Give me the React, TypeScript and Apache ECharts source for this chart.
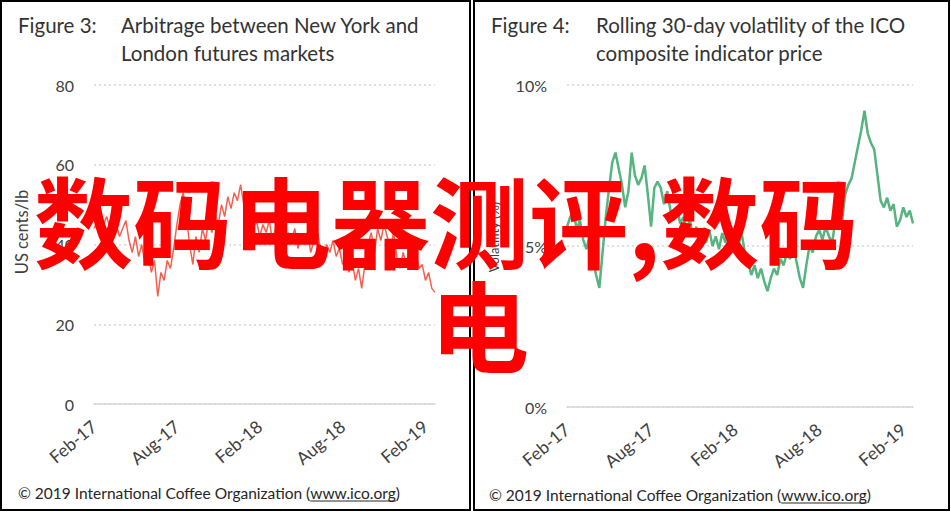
import React, { useEffect, useRef } from "react";
import * as echarts from "echarts";

const tickLabels = ["Feb-17", "Aug-17", "Feb-18", "Aug-18", "Feb-19"];
const tickWeeks = [0, 26, 52, 78, 104];

// Figure 3: NY - London arbitrage, US cents/lb (weekly readings)
const arbitrage = [
  44, 46, 43, 45, 47, 44, 43, 45, 42, 44, 46, 41, 38, 42, 37, 40, 35, 38, 33, 36,
  27, 33, 31, 36, 34, 39, 45, 50, 53, 47, 40, 35, 42, 38, 44, 41, 46, 43, 48, 45,
  50, 47, 52, 49, 53, 51, 55, 50, 52, 47, 44, 46, 42, 45, 43, 46, 41, 44, 42, 45,
  40, 43, 41, 44, 39, 42, 40, 43, 38, 41, 44, 39, 36, 40, 38, 41, 37, 39, 35, 37,
  33, 36, 31, 34, 29, 35, 40, 43, 38, 44, 41, 45, 42, 39, 43, 37, 34, 38, 35, 39,
  36, 38, 34, 35, 31, 33, 29, 28,
];

// Figure 4: rolling 30-day volatility, % (weekly readings)
const volatility = [
  5.6, 5.9, 6.1, 5.5, 5.8, 5.2, 4.9, 5.3, 4.6, 4.1, 3.7, 4.8, 5.9, 6.8, 7.6, 7.9, 7.4, 6.9, 6.2, 6.7,
  7.9, 7.2, 6.9, 7.1, 7.5, 6.6, 5.6, 6.8, 7.0, 6.8, 6.3, 6.7, 6.1, 5.8, 6.2, 5.7, 5.9, 5.5, 5.8, 5.3,
  5.6, 5.2, 5.4, 5.1, 5.5, 5.0, 5.3, 4.9, 5.4, 5.1, 5.6, 5.2, 5.5, 5.0, 5.4, 4.8, 4.5, 4.1, 4.4, 4.0,
  4.3, 3.9, 3.6, 4.0, 4.3, 4.1, 4.6, 4.4, 4.8, 4.6, 5.0, 4.5, 4.0, 3.7, 4.4, 5.0, 4.8, 5.3, 5.5, 5.2,
  5.6, 5.3, 5.1, 5.8, 6.0, 5.7, 6.6, 6.9, 7.1, 7.6, 8.1, 8.6, 9.2, 8.5, 8.2, 8.0, 7.2, 6.4, 6.2, 6.5,
  6.1, 6.3, 5.6, 5.8, 6.2, 5.9, 6.1, 5.7,
];

const FONT = "Lato, 'Open Sans', sans-serif";
const CJK = "'Noto Sans CJK SC', sans-serif";
const TXT = "#333333";
const AX = "#404040";
const GRID = "#d6d6d6";

function measure(text: string, font: string): number {
  const c = document.createElement("canvas");
  const ctx = c.getContext("2d");
  if (!ctx) return text.length * 7;
  ctx.font = font;
  return ctx.measureText(text).width;
}

function footer(x: number, y: number) {
  const size = 15.5;
  const font = `${size}px Lato`;
  const pre = "© 2019 International Coffee Organization (";
  const url = "www.ico.org";
  const w1 = measure(pre, font);
  const w2 = measure(url, font);
  const base = { fill: "#262626", fontSize: size, fontFamily: FONT, textVerticalAlign: "middle" };
  return [
    { type: "text", x, y, style: { ...base, text: pre } },
    { type: "text", x: x + w1, y, style: { ...base, text: url } },
    { type: "text", x: x + w1 + w2, y, style: { ...base, text: ")" } },
    {
      type: "line",
      shape: { x1: x + w1, y1: y + 8, x2: x + w1 + w2, y2: y + 8 },
      style: { stroke: "#262626", lineWidth: 1 },
    },
  ];
}

function xAxisCfg(gridIndex: number, cats: string[]) {
  return {
    type: "category",
    gridIndex,
    data: cats,
    boundaryGap: false,
    axisLine: { lineStyle: { color: GRID, width: 1.5 } },
    axisTick: { show: false },
    axisLabel: {
      interval: (i: number) => tickWeeks.includes(i),
      formatter: (_v: string, i: number) => {
        const k = tickWeeks.indexOf(i);
        return k >= 0 ? tickLabels[k] : "";
      },
      rotate: 40,
      margin: 20,
      color: AX,
      fontSize: 17.5,
      fontFamily: FONT,
    },
    splitLine: { show: false },
  };
}

function yAxisCfg(gridIndex: number, max: number, interval: number, fmt: (v: number) => string) {
  return {
    type: "value",
    gridIndex,
    min: 0,
    max,
    interval,
    axisLine: { show: false },
    axisTick: { show: false },
    axisLabel: { formatter: fmt, color: AX, fontSize: 16, fontFamily: FONT, margin: 20 },
    splitLine: { lineStyle: { color: GRID, width: 1.5, type: [2, 3] } },
  };
}

export default function App() {
  const ref = useRef<HTMLDivElement>(null);
  useEffect(() => {
    if (!ref.current) return;
    const chart = echarts.init(ref.current, undefined, { renderer: "svg" });
    const catsA = arbitrage.map((_, i) => `w${i}`);
    const catsV = volatility.map((_, i) => `w${i}`);
    const titleStyle = { fill: TXT, fontSize: 20.5, fontFamily: FONT, textVerticalAlign: "middle" };
    chart.setOption({
      animation: false,
      backgroundColor: "#ffffff",
      grid: [
        { left: 94, right: 951 - 435, top: 85, bottom: 512 - 404 },
        { left: 567, right: 951 - 913, top: 85, bottom: 512 - 407 },
      ],
      xAxis: [xAxisCfg(0, catsA), xAxisCfg(1, catsV)],
      yAxis: [
        yAxisCfg(0, 80, 20, (v) => `${v}`),
        yAxisCfg(1, 10, 5, (v) => `${v}%`),
      ],
      series: [
        {
          type: "line",
          xAxisIndex: 0,
          yAxisIndex: 0,
          data: arbitrage,
          showSymbol: false,
          lineStyle: { color: "#f4604e", width: 1.5 },
          z: 3,
        },
        {
          type: "line",
          xAxisIndex: 1,
          yAxisIndex: 1,
          data: volatility,
          showSymbol: false,
          lineStyle: { color: "#56b47f", width: 2.5 },
          z: 3,
        },
      ],
      graphic: [
        { type: "rect", shape: { x: 1, y: 1, width: 469, height: 509 }, style: { fill: "none", stroke: "#000", lineWidth: 2 } },
        { type: "rect", shape: { x: 474, y: 1, width: 475, height: 509 }, style: { fill: "none", stroke: "#000", lineWidth: 2 } },
        { type: "text", x: 18, y: 25, style: { ...titleStyle, text: "Figure 3:" } },
        { type: "text", x: 121, y: 25, style: { ...titleStyle, text: "Arbitrage between New York and" } },
        { type: "text", x: 121, y: 53, style: { ...titleStyle, text: "London futures markets" } },
        { type: "text", x: 491, y: 25, style: { ...titleStyle, text: "Figure 4:" } },
        { type: "text", x: 596, y: 25, style: { ...titleStyle, text: "Rolling 30-day volatility of the ICO" } },
        { type: "text", x: 596, y: 53, style: { ...titleStyle, text: "composite indicator price" } },
        {
          type: "text", x: 22, y: 232, rotation: Math.PI / 2,
          style: { text: "US cents/lb", fill: AX, fontSize: 16.5, fontFamily: FONT, textAlign: "center", textVerticalAlign: "middle" },
        },
        {
          type: "text", x: 494, y: 237, rotation: Math.PI / 2,
          style: { text: "Volatility (%)", fill: AX, fontSize: 13, fontFamily: FONT, textAlign: "center", textVerticalAlign: "middle" },
        },
        ...footer(18, 493),
        ...footer(489, 495),
        {
          type: "text", x: 34, y: 218, z: 100,
          style: { text: "数码电器测评,数码", fill: "#ff0000", fontSize: 99, fontWeight: "bold", fontFamily: CJK, textVerticalAlign: "middle" },
        },
        {
          type: "text", x: 430, y: 322, z: 100,
          style: { text: "电", fill: "#ff0000", fontSize: 99, fontWeight: "bold", fontFamily: CJK, textVerticalAlign: "middle" },
        },
      ],
    });
    return () => chart.dispose();
  }, []);
  return (
    <div
      ref={ref}
      style={{ position: "fixed", left: 0, top: 0, width: 951, height: 512, background: "#fff" }}
    />
  );
}
